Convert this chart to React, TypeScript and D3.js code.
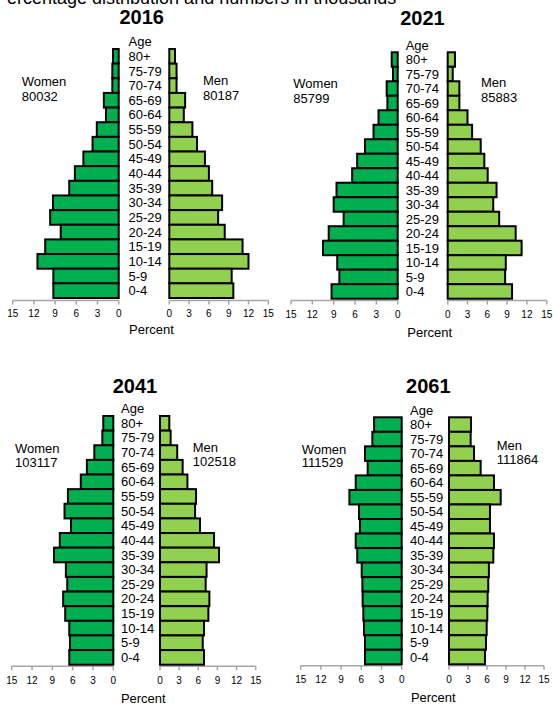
import React from "react";
import * as d3 from "d3";

const ageGroups = ["80+", "75-79", "70-74", "65-69", "60-64", "55-59", "50-54", "45-49", "40-44", "35-39", "30-34", "25-29", "20-24", "15-19", "10-14", "5-9", "0-4"];
const tickValues = [0, 3, 6, 9, 12, 15];

const years = ["2016", "2021", "2041", "2061"];
const womenTotals = ["80032", "85799", "103117", "111529"];
const menTotals = ["80187", "85883", "102518", "111864"];

// percent by age group, oldest first
const women2016 = [0.8, 0.9, 0.9, 2.1, 1.8, 3.1, 3.7, 5.0, 6.2, 7.0, 9.3, 9.7, 8.2, 10.4, 11.5, 9.25, 9.25];
const men2016 = [0.86, 1.1, 1.1, 2.4, 2.2, 3.5, 4.2, 5.4, 6.0, 6.5, 8.0, 7.4, 8.4, 11.1, 12.0, 9.45, 9.7];
const women2021 = [0.84, 0.66, 1.55, 1.45, 2.7, 3.4, 4.6, 5.7, 6.4, 8.6, 9.0, 7.6, 9.7, 10.5, 8.5, 8.2, 9.3];
const men2021 = [1.1, 0.76, 1.77, 1.77, 3.0, 3.7, 5.0, 5.55, 6.06, 7.4, 6.9, 7.8, 10.3, 11.2, 8.8, 8.7, 9.75];
const women2041 = [1.48, 1.62, 2.8, 3.9, 4.8, 6.7, 7.2, 6.25, 7.9, 8.75, 7.0, 6.8, 7.4, 7.1, 6.5, 6.4, 6.5];
const men2041 = [1.46, 1.67, 2.7, 3.55, 4.3, 5.65, 5.5, 6.27, 8.47, 9.25, 7.3, 7.16, 7.74, 7.58, 6.9, 6.7, 6.9];
const women2061 = [4.1, 4.36, 5.45, 5.05, 6.83, 7.77, 6.34, 6.2, 6.83, 6.6, 5.94, 5.84, 5.8, 5.7, 5.6, 5.45, 5.45];
const men2061 = [3.47, 3.42, 3.95, 5.0, 7.1, 8.16, 6.47, 6.47, 7.1, 7.0, 6.3, 6.2, 6.1, 6.05, 5.95, 5.84, 5.68];

const womenSeries = [women2016, women2021, women2041, women2061];
const menSeries = [men2016, men2021, men2041, men2061];

const FONT = "'Liberation Sans', Arial, Helvetica, sans-serif";
const WOMEN_COLOR = "#00B050";
const MEN_COLOR = "#92D050";
const AXIS_COLOR = "#a6a6a6";

type Layout = {
  L0: number; L15: number; R0: number; R15: number;
  barTop: number; barBottom: number; axisY: number; labelX: number;
  titleX: number; titleY: number;
  wX: number; wY1: number; wY2: number;
  mX: number; mY1: number; mY2: number;
  tickY: number; pctX: number; pctY: number;
};

const layouts: Layout[] = [
  { L0: 118.7, L15: 12.7, R0: 169.3, R15: 268.3, barTop: 49, barBottom: 298, axisY: 300.5, labelX: 128.5,
    titleX: 141.7, titleY: 24, wX: 21.7, wY1: 86, wY2: 100.5, mX: 203, mY1: 85, mY2: 99.5, tickY: 317, pctX: 151.5, pctY: 334 },
  { L0: 397.7, L15: 291, R0: 447.7, R15: 546.7, barTop: 52.3, barBottom: 298.7, axisY: 300.5, labelX: 405.7,
    titleX: 422.5, titleY: 24.5, wX: 293.3, wY1: 88, wY2: 102.5, mX: 481, mY1: 87, mY2: 101.5, tickY: 317.5, pctX: 429.7, pctY: 337 },
  { L0: 113.3, L15: 11.7, R0: 160, R15: 255.7, barTop: 416, barBottom: 664.7, axisY: 666.3, labelX: 121,
    titleX: 135, titleY: 393.3, wX: 15, wY1: 453, wY2: 466.5, mX: 192.7, mY1: 451.5, mY2: 466, tickY: 683.5, pctX: 143.3, pctY: 703 },
  { L0: 401.7, L15: 300.7, R0: 449, R15: 544, barTop: 417.3, barBottom: 664.3, axisY: 665.8, labelX: 410,
    titleX: 428.3, titleY: 393.3, wX: 301.7, wY1: 454, wY2: 466.7, mX: 496.7, mY1: 450, mY2: 464.3, tickY: 682.5, pctX: 433.3, pctY: 701.7 },
];

function Panel({ idx }: { idx: number }) {
  const lay = layouts[idx];
  const women = womenSeries[idx];
  const men = menSeries[idx];
  const xL = d3.scaleLinear().domain([0, 15]).range([lay.L0, lay.L15]);
  const xR = d3.scaleLinear().domain([0, 15]).range([lay.R0, lay.R15]);
  const y = d3.scaleBand<string>().domain(ageGroups).range([lay.barTop, lay.barBottom]).padding(0);
  const bw = y.bandwidth();

  return (
    <g>
      <text x={lay.titleX} y={lay.titleY} textAnchor="middle" fontSize={20} fontWeight="bold" fontFamily={FONT}>
        {years[idx]}
      </text>
      <text x={lay.wX} y={lay.wY1} fontSize={13} fontFamily={FONT}>Women</text>
      <text x={lay.wX} y={lay.wY2} fontSize={13} fontFamily={FONT}>{womenTotals[idx]}</text>
      <text x={lay.mX} y={lay.mY1} fontSize={13} fontFamily={FONT}>Men</text>
      <text x={lay.mX} y={lay.mY2} fontSize={13} fontFamily={FONT}>{menTotals[idx]}</text>

      {/* axes */}
      <line x1={xL(15)} x2={xL(0)} y1={lay.axisY} y2={lay.axisY} stroke={AXIS_COLOR} strokeWidth={1.5} />
      <line x1={xR(0)} x2={xR(15)} y1={lay.axisY} y2={lay.axisY} stroke={AXIS_COLOR} strokeWidth={1.5} />
      {tickValues.map((t) => (
        <g key={"tl" + t}>
          <line x1={xL(t)} x2={xL(t)} y1={lay.axisY} y2={lay.axisY + 4} stroke={AXIS_COLOR} strokeWidth={1.5} />
          <text x={xL(t)} y={lay.tickY} textAnchor="middle" fontSize={10} fontFamily={FONT}>{t}</text>
          <line x1={xR(t)} x2={xR(t)} y1={lay.axisY} y2={lay.axisY + 4} stroke={AXIS_COLOR} strokeWidth={1.5} />
          <text x={xR(t)} y={lay.tickY} textAnchor="middle" fontSize={10} fontFamily={FONT}>{t}</text>
        </g>
      ))}

      {/* bars */}
      {ageGroups.map((a, i) => (
        <g key={"b" + a}>
          <rect x={xL(women[i])} y={y(a)} width={xL(0) - xL(women[i])} height={bw}
            fill={WOMEN_COLOR} stroke="#000" strokeWidth={2} />
          <rect x={xR(0)} y={y(a)} width={xR(men[i]) - xR(0)} height={bw}
            fill={MEN_COLOR} stroke="#000" strokeWidth={2} />
        </g>
      ))}

      {/* age labels */}
      <text x={lay.labelX} y={(y(ageGroups[0]) as number) - bw / 2} dy="0.35em" fontSize={13} fontFamily={FONT}>Age</text>
      {ageGroups.map((a) => (
        <text key={"l" + a} x={lay.labelX} y={(y(a) as number) + bw / 2} dy="0.35em" fontSize={13} fontFamily={FONT}>
          {a}
        </text>
      ))}

      <text x={lay.pctX} y={lay.pctY} textAnchor="middle" fontSize={13} fontFamily={FONT}>Percent</text>
    </g>
  );
}

export default function App() {
  return (
    <svg width={553} height={704} style={{ position: "absolute", left: 0, top: 0, background: "#fff" }}>
      <rect x={0} y={0} width={553} height={704} fill="#fff" />
      <text x={-5} y={4} fontSize={18} fontFamily={FONT}>Percentage distribution and numbers in thousands</text>
      {years.map((_, i) => (
        <Panel key={i} idx={i} />
      ))}
    </svg>
  );
}
